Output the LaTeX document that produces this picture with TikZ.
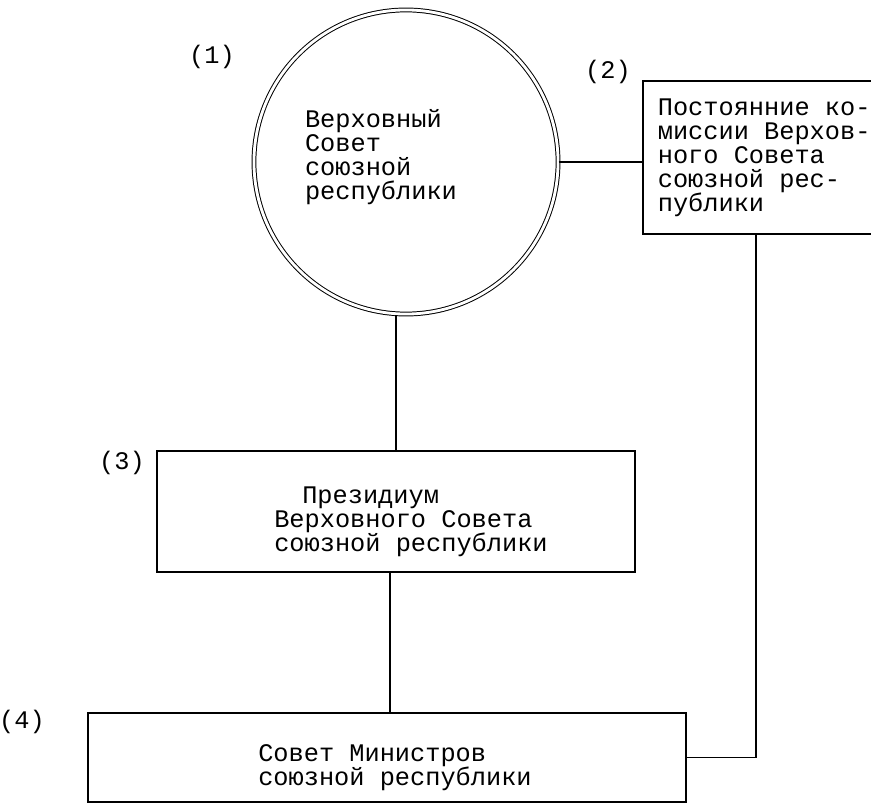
\documentclass[tikz,border=0pt]{standalone}
\usepackage{fontspec}
\newfontfamily\typewr{Liberation Mono}
\usetikzlibrary{positioning, calc}

\begin{document}
\begin{tikzpicture}[
    x=0.025cm, y=-0.025cm,
    words/.style={font=\typewr\fontsize{18}{17}\selectfont, align=left, inner sep=0pt},
    council/.style={circle, draw, double, double distance=2pt, line width=0.7pt, minimum size=7.6cm},
    organ/.style={rectangle, draw, line width=1.2pt},
    tie/.style={draw, line width=1.2pt},
    mark no/.style={font=\typewr\fontsize{18}{18}\selectfont}
]
    \useasboundingbox (0,0) rectangle (871,808);

    % Place organs
    \node[council, label={[words, xshift=-0.625cm, yshift=0.125cm]center:{Верховный\\Совет\\союзной\\республики}}] (vs) at (406,162) {};
    \node[organ, words, anchor=west, inner xsep=0.375cm, minimum height=3.825cm] (ks) at (642,157.5)
        {Постоянние ко-\\миссии Верхов-\\ного Совета\\союзной рес-\\публики};
    \node[organ, minimum width=11.95cm, minimum height=3.025cm, label={[words, xshift=0.375cm, yshift=-0.26cm]center:{\hspace*{0.7cm}Президиум\\Верховного Совета\\союзной республики}}] (pr) at (396,511.5) {};
    \node[organ, minimum width=14.95cm, minimum height=2.225cm, label={[words, xshift=0.2cm, yshift=-0.25cm]center:{Совет Министров\\союзной республики}}] (sm) at (387,757.5) {};

    % Numbers
    \node[mark no] (n1) at (212,57) {(1)};
    \node[mark no] (n2) at (608,72) {(2)};
    \node[mark no] (n3) at (122,463) {(3)};
    \node[mark no] (n4) at (22,722) {(4)};

    % Connections
    \coordinate (riser) at (756,0);
    \path[tie] (vs.east) -- (vs.east -| ks.west);
    \path[tie] (pr.north) -- (pr.north |- vs.south);
    \path[tie] ([xshift=-0.15cm]pr.south) -- ([xshift=-0.15cm]pr.south |- sm.north);
    \path[tie] (sm.east) -| (riser |- ks.south);

\end{tikzpicture}
\end{document}
